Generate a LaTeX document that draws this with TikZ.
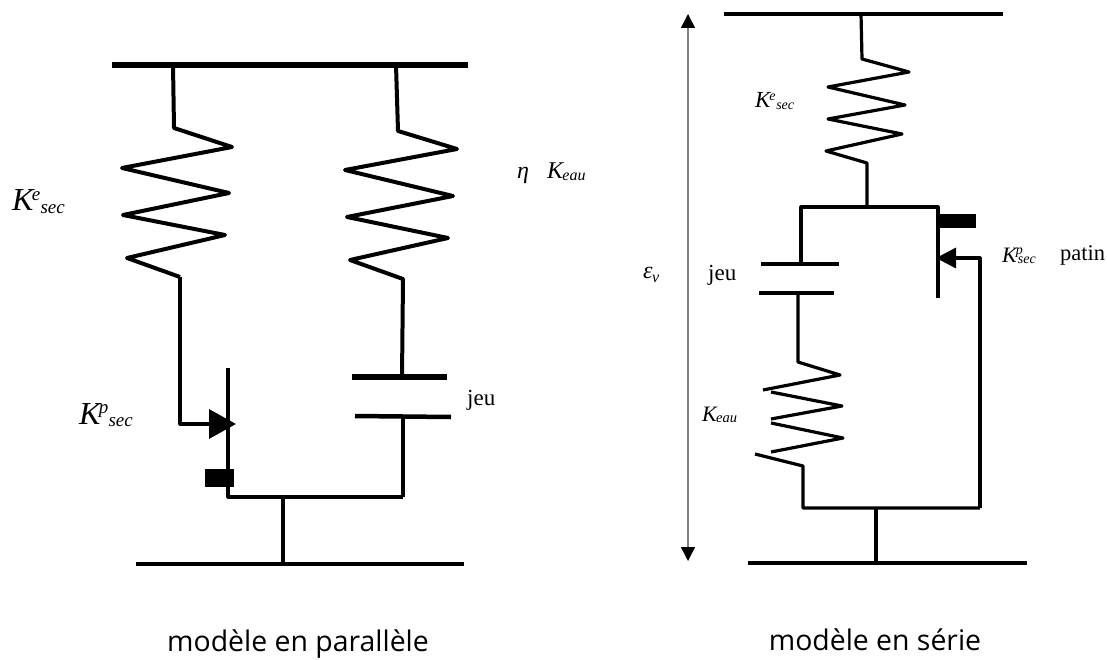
\documentclass[tikz,border=0pt]{standalone}
\usepackage{fontspec}
\setmainfont{Liberation Serif}
\newfontfamily\capfont{Open Sans}
\usetikzlibrary{arrows.meta}
\newcommand{\stiffsup}[5]{{\fontsize{#2}{#2}\selectfont\itshape K\kern-.05em\rlap{\raisebox{.33em}{\fontsize{#3}{#3}\selectfont #1}}\kern#5\raisebox{-.07em}{\fontsize{#3}{#3}\selectfont #4}}}
\newcommand{\stiffsub}[3]{{\fontsize{#1}{#1}\selectfont\itshape K\kern-.03em\raisebox{-.08em}{\fontsize{#2}{#2}\selectfont #3}}}

\begin{document}
\begin{tikzpicture}[x=1pt,y=-1pt,
  wire/.style={line width=3.2pt,line join=round},
  spring/.style={line width=4pt,line join=round},
  bar/.style={line width=6pt},
  lightbar/.style={line width=4.5pt},
  tip/.style={-{Triangle[length=27pt,width=29pt,sep=-1pt]}},
  stiff/.style={inner sep=0pt,anchor=base west},
  caption/.style={inner sep=0pt,anchor=base,font=\capfont\fontsize{28.4}{28.4}\selectfont}]
  \useasboundingbox (0,0) rectangle (1107,660);
  % parallel model
  \coordinate (ptopl) at (112,65);
  \coordinate (ptopr) at (468,65);
  \coordinate (pbotl) at (136,564);
  \coordinate (pbotr) at (464,564);
  \coordinate (pa) at (173,65);
  \coordinate (pb) at (180,277);
  \coordinate (pc) at (180,424);
  \coordinate (pd) at (235,424);
  \coordinate (pe) at (228,368);
  \coordinate (pf) at (228,497);
  \coordinate (pg) at (403,497);
  \coordinate (ph) at (283,497);
  \coordinate (pi) at (283,564);
  \coordinate (pj) at (396,65);
  \coordinate (pk) at (403,279);
  \coordinate (pl) at (402,377);
  \coordinate (pm) at (403,416);
  \coordinate (pn) at (352,377);
  \coordinate (po) at (447,377);
  \coordinate (pp) at (355,416);
  \coordinate (pq) at (451,417);
  \draw[bar] (ptopl) -- (ptopr);
  \draw[lightbar] (pbotl) -- (pbotr);
  \draw[spring] (pa) -- (174,128) -- (232,147) -- (122,168) -- (229,193) -- (123,215) -- (225,235) -- (127,258) -- (pb);
  \draw[wire,tip] (pb) -- (pc) -- (pd);
  \draw[wire] (pe) -- (pf) -- (pg);
  \draw[wire] (ph) -- (pi);
  \draw[spring] (pj) -- (398,131) -- (457,149) -- (345,170) -- (453,196) -- (347,217) -- (448,238) -- (350,260) -- (pk) -- (pl);
  \draw[bar] (pn) -- (po);
  \draw[lightbar] (pp) -- (pq);
  \draw[wire] (pm) -- (pg);
  \node[fill=black,inner sep=0pt,minimum width=29pt,minimum height=18pt] (pblock) at (219.5,478) {};
  \node[stiff] (pkes) at (12,211) {\stiffsup{e}{32}{19}{sec}{.27em}};
  \node[stiff] (pkps) at (79,424) {\stiffsup{p}{32}{19}{sec}{.3em}};
  \node[stiff] (peta) at (517,179) {\fontsize{24}{24}\selectfont\itshape η};
  \node[stiff] (pkeau) at (547,179) {\stiffsub{24}{16}{eau}};
  \node[stiff] (pjeu) at (467,405) {\fontsize{23}{23}\selectfont jeu};
  \node[caption] (pcap) at (298,651) {modèle en parallèle};
  % series model
  \coordinate (stopl) at (724,14);
  \coordinate (stopr) at (1003,14);
  \coordinate (sbotl) at (748,563);
  \coordinate (sbotr) at (1027,563);
  \coordinate (sa) at (861,14);
  \coordinate (sb) at (867,163);
  \coordinate (sc) at (867,207);
  \coordinate (sd) at (801,207);
  \coordinate (se) at (938,207);
  \coordinate (sf) at (938,298);
  \coordinate (sg) at (801,264);
  \coordinate (sh) at (761,264);
  \coordinate (si) at (839,264);
  \coordinate (sj) at (759,293);
  \coordinate (sk) at (834,293);
  \coordinate (sl) at (798,293);
  \coordinate (sm) at (798,362);
  \coordinate (sn) at (803,466);
  \coordinate (so) at (803,508);
  \coordinate (sp) at (980,508);
  \coordinate (sq) at (980,258);
  \coordinate (sr) at (937,258);
  \coordinate (ss) at (876,508);
  \coordinate (st) at (876,563);
  \coordinate (sarrowt) at (688,14);
  \coordinate (sarrowb) at (688,561);
  \draw[lightbar] (stopl) -- (stopr);
  \draw[lightbar] (sbotl) -- (sbotr);
  \draw[wire] (sa) -- (862,59) -- (909,72) -- (828,87) -- (905,105) -- (828,119) -- (902,134) -- (826,151) -- (sb) -- (sc);
  \draw[wire] (sg) -- (sd) -- (se) -- (sf);
  \draw[lightbar] (sh) -- (si);
  \draw[lightbar] (sj) -- (sk);
  \draw[wire] (sl) -- (sm) -- (840,375) -- (763,390);
  \draw[wire] (771,392) -- (842,406) -- (771,419);
  \draw[wire] (771,423) -- (843,438) -- (771,452);
  \draw[wire] (755,454) -- (sn) -- (so) -- (sp);
  \draw[wire,-{Triangle[length=20pt,width=20pt,sep=-1pt]}] (sp) -- (sq) -- (sr);
  \draw[wire] (ss) -- (st);
  \draw[line width=1.5pt,gray,{Triangle[length=14pt,width=14pt,color=black]}-{Triangle[length=14pt,width=14pt,color=black]}] (sarrowt) -- (sarrowb);
  \node[fill=black,inner sep=0pt,minimum width=38pt,minimum height=14pt] (sblock) at (957,221) {};
  \node[stiff] (skes) at (755,108) {\stiffsup{e}{23}{14}{sec}{.3em}};
  \node[stiff] (skps) at (1002,262) {\stiffsup{p}{22}{14}{sec}{.1em}};
  \node[stiff] (skeau) at (702,421) {\stiffsub{22}{14.5}{eau}};
  \node[stiff] (spatin) at (1060,260) {\fontsize{22.5}{22.5}\selectfont patin};
  \node[stiff] (sjeu) at (708,280) {\fontsize{23}{23}\selectfont jeu};
  \node[stiff] (seps) at (643,278) {\fontsize{24}{24}\selectfont\itshape ε\kern-.02em\raisebox{-.2em}{\fontsize{16}{16}\selectfont v}};
  \node[caption] (scap) at (875,650) {modèle en série};
\end{tikzpicture}
\end{document}
